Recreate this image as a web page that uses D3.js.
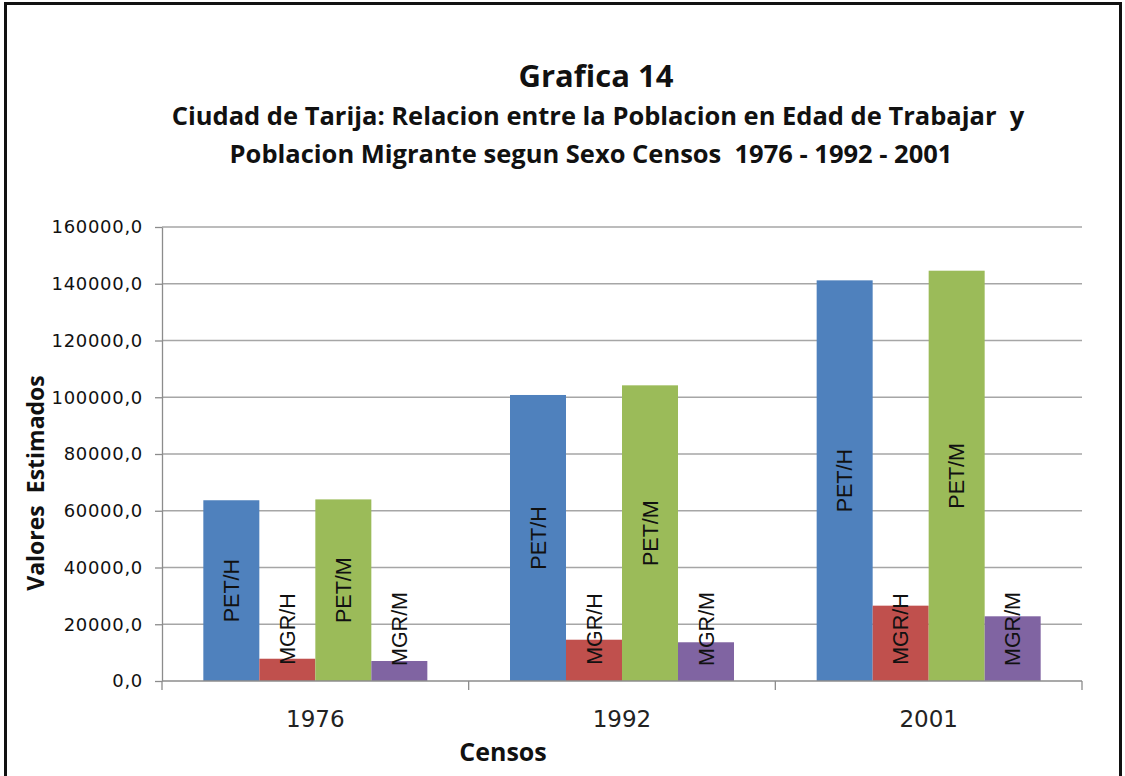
<!DOCTYPE html>
<html>
<head>
<meta charset="utf-8">
<script src="https://cdnjs.cloudflare.com/ajax/libs/d3/7.8.5/d3.min.js"></script>
<style>
  body { margin: 0; background: #fff; }
  svg { display: block; }
  text { white-space: pre; }
</style>
</head>
<body>
<svg id="chart" width="1125" height="776"></svg>
<script>
// chart data
const censos = ["1976", "1992", "2001"];
const series = ["PET/H", "MGR/H", "PET/M", "MGR/M"];
const petH = [63700, 100800, 141200];
const mgrH = [7850, 14550, 26550];
const petM = [64000, 104200, 144600];
const mgrM = [7050, 13650, 22800];
const yTicks = [0, 20000, 40000, 60000, 80000, 100000, 120000, 140000, 160000];
const colors = ["#4f81bd", "#c0504d", "#9bbb59", "#8064a2"];

const values = [petH, mgrH, petM, mgrM];

const svg = d3.select("#chart");
const margin = { top: 227, right: 43, bottom: 95, left: 162 };
const width = 1125 - margin.left - margin.right;
const height = 776 - margin.top - margin.bottom;

svg.append("rect")
  .attr("width", 1125).attr("height", 776).attr("fill", "#fff");

// outer frame
svg.append("rect")
  .attr("x", 5.5).attr("y", 3.5)
  .attr("width", 1115).attr("height", 800)
  .attr("fill", "none")
  .attr("stroke", "#111")
  .attr("stroke-width", 3);

// titles
const titleFont = "'Open Sans', sans-serif";
svg.append("text")
  .attr("x", 596).attr("y", 87)
  .attr("text-anchor", "middle")
  .style("font-family", titleFont).style("font-weight", "bold")
  .style("font-size", "31px").attr("fill", "#111")
  .text("Grafica 14");
svg.append("text")
  .attr("x", 598).attr("y", 125)
  .attr("text-anchor", "middle")
  .style("font-family", titleFont).style("font-weight", "bold")
  .style("font-size", "25.5px").attr("fill", "#111")
  .text("Ciudad de Tarija: Relacion entre la Poblacion en Edad de Trabajar  y");
svg.append("text")
  .attr("x", 591).attr("y", 163)
  .attr("text-anchor", "middle")
  .style("font-family", titleFont).style("font-weight", "bold")
  .style("font-size", "25.5px").attr("fill", "#111")
  .text("Poblacion Migrante segun Sexo Censos  1976 - 1992 - 2001");

const g = svg.append("g")
  .attr("transform", `translate(${margin.left},${margin.top})`);

const x0 = d3.scaleBand().domain(censos).range([0, width]).padding(0);
const x1 = d3.scaleBand().domain(series).range([0, x0.bandwidth()])
  .paddingInner(0).paddingOuter(0.738);
const y = d3.scaleLinear().domain([0, 160000]).range([height, 0]);

// gridlines
g.append("g")
  .selectAll("line")
  .data(yTicks.filter(d => d > 0))
  .enter().append("line")
  .attr("x1", 0).attr("x2", width)
  .attr("y1", d => y(d)).attr("y2", d => y(d))
  .attr("stroke", "#a6a6a6").attr("stroke-width", 1.3);

// y axis
const yAxis = g.append("g")
  .call(d3.axisLeft(y).tickValues(yTicks).tickSize(7).tickSizeOuter(0)
    .tickFormat(d => d + ",0"));
yAxis.select(".domain").attr("stroke", "#8c8c8c").attr("stroke-width", 1.3);
yAxis.selectAll(".tick line").attr("stroke", "#8c8c8c").attr("stroke-width", 1.3);
yAxis.selectAll(".tick text")
  .attr("x", -19)
  .style("font-family", "'DejaVu Sans', sans-serif")
  .style("font-size", "18px")
  .style("letter-spacing", "0.7px")
  .attr("fill", "#111");

// bars
const groups = g.append("g")
  .selectAll("g")
  .data(censos)
  .enter().append("g")
  .attr("transform", d => `translate(${x0(d)},0)`);

groups.selectAll("rect")
  .data((c, ci) => series.map((s, si) => ({ s, si, v: values[si][ci] })))
  .enter().append("rect")
  .attr("x", d => x1(d.s))
  .attr("y", d => y(d.v))
  .attr("width", x1.bandwidth())
  .attr("height", d => y(0) - y(d.v))
  .attr("fill", d => colors[d.si]);

// bar labels (rotated)
groups.selectAll("text")
  .data((c, ci) => series.map((s, si) => ({ s, si, v: values[si][ci] })))
  .enter().append("text")
  .attr("transform", d => {
    const cx = x1(d.s) + x1.bandwidth() / 2;
    const barH = y(0) - y(d.v);
    const cy = barH > 100 ? (y(0) + y(d.v)) / 2 : y(0) - 52;
    return `translate(${cx},${cy}) rotate(-90)`;
  })
  .attr("text-anchor", "middle")
  .attr("dy", "0.35em")
  .style("font-family", "'Liberation Sans', Arial, sans-serif")
  .style("font-size", "21.5px")
  .attr("fill", "#111")
  .text(d => d.s);

// x axis with ticks between categories
g.append("line")
  .attr("x1", 0).attr("x2", width)
  .attr("y1", height).attr("y2", height)
  .attr("stroke", "#8c8c8c").attr("stroke-width", 1.3);
g.append("g")
  .selectAll("line")
  .data(censos.concat(["end"]))
  .enter().append("line")
  .attr("x1", (d, i) => i * x0.step()).attr("x2", (d, i) => i * x0.step())
  .attr("y1", height).attr("y2", height + 9)
  .attr("stroke", "#8c8c8c").attr("stroke-width", 1.3);
g.append("g")
  .selectAll("text")
  .data(censos)
  .enter().append("text")
  .attr("x", d => x0(d) + x0.bandwidth() / 2)
  .attr("y", height + 46)
  .attr("text-anchor", "middle")
  .style("font-family", "'DejaVu Sans', sans-serif")
  .style("font-size", "23px")
  .attr("fill", "#222")
  .text(d => d);

// axis titles
svg.append("text")
  .attr("x", 503).attr("y", 761)
  .attr("text-anchor", "middle")
  .style("font-family", titleFont).style("font-weight", "bold")
  .style("font-size", "25px").attr("fill", "#111")
  .text("Censos");
svg.append("text")
  .attr("transform", "translate(44,483) rotate(-90)")
  .attr("text-anchor", "middle")
  .style("font-family", titleFont).style("font-weight", "bold")
  .style("font-size", "23px").attr("fill", "#111")
  .text("Valores  Estimados");
</script>
</body>
</html>
